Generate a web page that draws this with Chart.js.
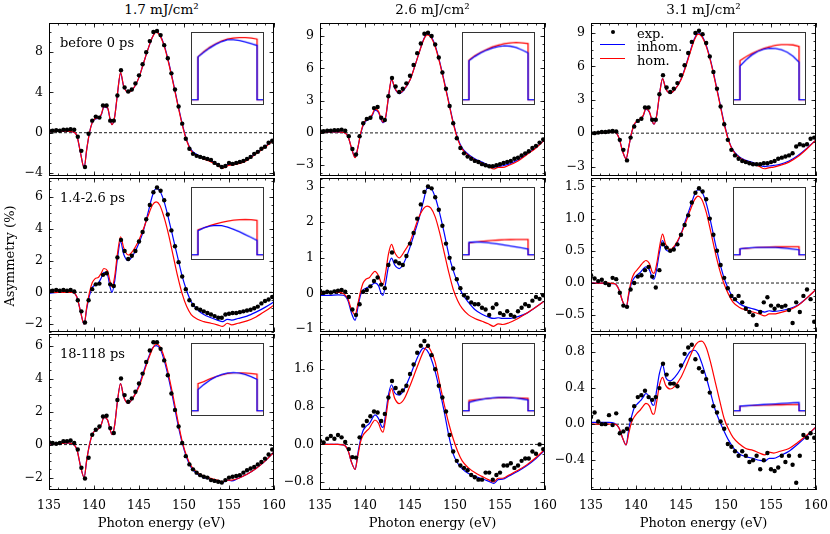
<!DOCTYPE html>
<html>
<head>
<meta charset="utf-8">
<script src="https://cdn.jsdelivr.net/npm/chart.js@4.4.0/dist/chart.umd.min.js"></script>
<style>
  body { margin: 0; width: 830px; height: 534px; position: relative; overflow: hidden; background: #fff; font-family: 'DejaVu Serif', serif; }
  canvas { position: absolute; }
  .txt { position: absolute; color: #000; white-space: nowrap; line-height: 1; font-size: 13px; }
</style>
</head>
<body>
<script>
// rows = delay windows, columns = fluences
const delays = ['before 0 ps', '1.4-2.6 ps', '18-118 ps'];
const fluences = ['1.7 mJ/cm²', '2.6 mJ/cm²', '3.1 mJ/cm²'];
const seriesNames = ['exp.', 'inhom.', 'hom.'];
const xTitle = 'Photon energy (eV)';
const yTitle = 'Asymmetry (%)';
const xTicks = [135, 140, 145, 150, 155, 160];

const yTicksBefore = [[-4, 0, 4, 8], [-3, 0, 3, 6, 9], [-3, 0, 3, 6, 9]];
const yTicksEarly = [[-2, 0, 2, 4, 6], [-1, 0, 1, 2, 3], [-0.5, 0, 0.5, 1, 1.5]];
const yTicksLate = [[-2, 0, 2, 4, 6], [-0.8, 0, 0.8, 1.6], [-0.4, 0, 0.4, 0.8]];
const yRangeBefore = [[-4.3, 10.9], [-4.0, 10.2], [-3.85, 9.9]];
const yRangeEarly = [[-2.5, 7.2], [-1.08, 3.24], [-0.76, 1.63]];
const yRangeLate = [[-2.75, 6.7], [-0.97, 2.35], [-0.73, 1.0]];

// energies of the measured points (eV)
const energy = [135.0,135.4,135.8,136.2,136.6,137.0,137.4,137.8,138.2,138.6,
  139.0,139.4,139.8,140.2,140.6,141.0,141.4,141.8,142.2,142.6,
  143.0,143.4,143.8,144.2,144.6,145.0,145.4,145.8,146.2,146.6,
  147.0,147.4,147.8,148.2,148.6,149.0,149.4,149.8,150.2,150.6,
  151.0,151.4,151.8,152.2,152.6,153.0,153.4,153.8,154.2,154.6,
  155.0,155.4,155.8,156.2,156.6,157.0,157.4,157.8,158.2,158.6,
  159.0,159.4,159.8];

// energies of the model curves (eV)
const modelEnergy = [135,136,137,137.6,138.1,138.5,138.9,139.2,139.5,139.8,
  140.1,140.5,140.8,141.1,141.5,141.8,142.0,142.3,142.6,142.95,
  143.3,143.8,144.3,145,145.5,146,146.5,146.9,147.3,147.8,
  148.3,148.8,149.3,149.8,150.3,150.8,151.5,152.2,153,153.7,
  154.3,154.8,155.3,156,157,158,159,160];

// ---- before 0 ps ----
const expBefore17 = [0.2,0.2,0.25,0.2,0.3,0.3,0.35,0.3,-0.4,-1.8,
  -3.4,-0.1,1.2,1.6,1.5,2.7,2.7,1.2,1.2,3.7,
  6.2,4.5,4.1,4.3,4.9,5.7,6.8,8.0,9.1,10.0,
  10.1,9.7,8.7,7.4,5.9,4.3,2.6,0.9,-0.6,-1.6,
  -2.1,-2.3,-2.4,-2.5,-2.6,-2.7,-3.0,-3.2,-3.4,-3.3,
  -3.0,-3.1,-3.0,-2.9,-2.8,-2.6,-2.4,-2.1,-1.9,-1.6,
  -1.4,-1.0,-0.8];
const inhomBefore17 = [0.1,0.15,0.15,0.1,-0.3,-2.0,-3.45,-1.6,0.0,1.0,
  1.35,1.45,1.75,2.55,2.45,1.3,0.8,1.6,3.8,5.9,
  4.6,4.0,4.3,5.5,6.9,8.3,9.5,10.05,9.75,8.7,
  7.0,5.0,2.9,0.9,-0.75,-1.7,-2.2,-2.5,-2.8,-3.1,
  -3.4,-3.2,-3.1,-3.0,-2.65,-2.05,-1.4,-0.65];
const homBefore17 = [0.1,0.15,0.15,0.1,-0.3,-2.0,-3.5,-1.6,0.0,1.0,
  1.4,1.5,1.8,2.6,2.5,1.3,0.8,1.6,3.8,6.0,
  4.6,4.0,4.3,5.5,6.9,8.3,9.5,10.0,9.7,8.6,
  6.9,4.9,2.8,0.8,-0.8,-1.8,-2.3,-2.6,-2.9,-3.2,
  -3.55,-3.3,-3.2,-3.1,-2.75,-2.1,-1.45,-0.7];

const expBefore26 = [0.15,0.15,0.2,0.2,0.25,0.25,0.3,0.2,-0.3,-1.5,
  -2.0,-0.3,0.9,1.3,1.4,2.3,2.4,1.4,1.2,3.4,
  5.1,4.3,3.8,4.1,4.6,5.3,6.3,7.4,8.3,9.2,
  9.3,9.0,8.2,7.0,5.6,4.1,2.5,0.9,-0.5,-1.4,
  -1.9,-2.2,-2.4,-2.6,-2.7,-2.9,-3.0,-3.1,-3.1,-3.0,
  -2.9,-2.8,-2.7,-2.6,-2.4,-2.3,-2.1,-1.9,-1.7,-1.4,
  -1.2,-0.9,-0.6];
const inhomBefore26 = [0.05,0.1,0.1,0.05,-0.3,-1.4,-2.25,-1.4,-0.15,0.7,
  1.1,1.3,1.6,2.1,1.9,1.2,0.95,1.45,3.25,4.95,
  4.15,3.65,3.95,4.9,6.1,7.4,8.65,9.2,9.0,8.1,
  6.6,4.8,2.9,1.0,-0.5,-1.4,-2.0,-2.4,-2.7,-3.0,
  -3.2,-3.1,-3.05,-2.9,-2.5,-1.95,-1.35,-0.6];
const homBefore26 = [0.05,0.1,0.1,0.05,-0.3,-1.4,-2.3,-1.4,-0.1,0.8,
  1.2,1.4,1.7,2.2,2.0,1.3,1.0,1.5,3.3,5.0,
  4.2,3.7,4.0,4.9,6.1,7.4,8.6,9.1,8.9,8.0,
  6.5,4.7,2.8,0.9,-0.6,-1.5,-2.1,-2.5,-2.8,-3.1,
  -3.35,-3.2,-3.2,-3.0,-2.6,-2.0,-1.4,-0.6];

const expBefore31 = [0.0,0.0,0.05,0.1,0.1,0.15,0.2,0.15,-0.6,-1.5,
  -2.45,-0.4,0.6,1.1,1.3,2.3,2.3,1.2,1.2,3.5,
  5.2,4.1,3.7,4.0,4.5,5.2,6.1,7.2,8.2,9.0,
  9.2,8.9,8.1,6.9,5.5,4.0,2.4,0.8,-0.6,-1.5,
  -2.0,-2.3,-2.5,-2.6,-2.7,-2.8,-2.8,-2.8,-2.7,-2.7,
  -2.6,-2.5,-2.3,-2.2,-2.1,-2.0,-1.8,-1.2,-1.0,-1.1,
  -1.0,-0.5,-0.4];
const inhomBefore31 = [0.0,0.05,0.1,0.1,-0.4,-1.6,-2.3,-1.2,0.0,0.75,
  1.05,1.25,1.55,2.15,1.85,1.05,0.8,1.6,3.4,4.9,
  4.0,3.6,3.9,4.85,6.0,7.3,8.5,9.0,8.8,7.9,
  6.5,4.7,2.8,0.9,-0.65,-1.55,-2.15,-2.45,-2.65,-2.9,
  -3.0,-2.95,-2.9,-2.8,-2.5,-2.0,-1.35,-0.6];
const homBefore31 = [0.0,0.05,0.1,0.1,-0.4,-1.6,-2.3,-1.2,0.0,0.8,
  1.1,1.3,1.6,2.2,1.9,1.1,0.8,1.6,3.4,4.9,
  4.0,3.6,3.9,4.8,5.9,7.2,8.4,8.9,8.7,7.8,
  6.4,4.6,2.7,0.8,-0.7,-1.6,-2.2,-2.5,-2.75,-3.0,
  -3.2,-3.1,-3.05,-2.9,-2.6,-2.1,-1.4,-0.6];

// ---- 1.4-2.6 ps ----
const expEarly17 = [0.1,0.1,0.15,0.1,0.15,0.1,0.15,0.05,-0.5,-1.2,
  -1.9,-0.5,0.2,0.5,0.55,1.1,1.2,0.5,0.4,2.2,
  3.3,2.6,2.1,2.3,2.6,3.2,3.8,4.6,5.5,6.3,
  6.6,6.4,5.8,4.9,3.9,2.9,1.9,1.0,0.2,-0.5,
  -0.8,-1.0,-1.1,-1.2,-1.3,-1.4,-1.5,-1.6,-1.6,-1.4,
  -1.35,-1.3,-1.3,-1.25,-1.2,-1.15,-1.1,-1.0,-0.9,-0.7,
  -0.55,-0.45,-0.3];
const inhomEarly17 = [-0.05,0.0,0.0,0.0,-0.3,-1.2,-2.0,-1.0,-0.2,0.3,
  0.45,0.6,0.9,1.25,1.1,0.3,0.0,0.7,2.1,3.2,
  2.4,2.0,2.3,3.1,3.9,5.0,6.1,6.55,6.4,5.7,
  4.6,3.4,2.2,1.0,0.1,-0.6,-1.1,-1.4,-1.6,-1.75,
  -1.85,-1.7,-1.75,-1.65,-1.5,-1.25,-0.95,-0.6];
const homEarly17 = [0.0,0.0,0.0,0.0,-0.3,-1.2,-2.0,-0.9,0.0,0.6,
  0.85,0.95,1.2,1.5,1.35,0.65,0.35,1.0,2.4,3.5,
  2.8,2.35,2.6,3.3,4.0,4.8,5.5,5.7,5.5,4.7,
  3.6,2.3,1.0,-0.1,-0.9,-1.4,-1.7,-1.85,-1.95,-2.05,
  -2.15,-1.95,-2.05,-1.95,-1.8,-1.55,-1.2,-0.8];

const expEarly26 = [0.08,0.02,0.05,0.03,0.06,0.08,0.1,0.05,-0.1,-0.45,
  -0.6,-0.3,0.05,0.1,0.2,0.35,0.45,0.25,0.15,0.8,
  1.15,0.9,0.85,0.8,1.05,1.4,1.7,2.1,2.5,2.85,
  3.0,2.95,2.7,2.35,1.9,1.4,1.0,0.7,0.4,0.15,
  -0.05,-0.12,-0.25,-0.3,-0.3,-0.4,-0.45,-0.6,-0.4,-0.3,
  -0.55,-0.6,-0.5,-0.6,-0.65,-0.5,-0.4,-0.3,-0.35,-0.2,
  -0.1,-0.15,-0.05];
const inhomEarly26 = [-0.05,-0.05,-0.04,-0.05,-0.2,-0.55,-0.75,-0.4,-0.05,0.1,
  0.15,0.2,0.25,0.3,0.22,0.0,-0.05,0.3,0.75,0.99,
  0.8,0.7,0.85,1.3,1.7,2.1,2.6,2.95,2.95,2.7,
  2.25,1.7,1.1,0.65,0.3,0.0,-0.25,-0.45,-0.58,-0.66,
  -0.7,-0.68,-0.7,-0.7,-0.65,-0.55,-0.38,-0.2];
const homEarly26 = [0.02,0.03,0.03,0.0,-0.15,-0.45,-0.6,-0.3,0.05,0.3,
  0.4,0.45,0.55,0.62,0.5,0.3,0.25,0.6,1.1,1.38,
  1.15,1.0,1.15,1.45,1.8,2.15,2.38,2.45,2.4,2.15,
  1.7,1.15,0.6,0.12,-0.2,-0.42,-0.6,-0.7,-0.78,-0.85,
  -0.92,-0.85,-0.87,-0.82,-0.7,-0.55,-0.38,-0.2];

const expEarly31 = [0.12,0.07,0.03,0.05,0.0,-0.03,0.08,0.06,-0.15,-0.35,
  -0.37,-0.1,0.0,0.1,0.12,0.2,0.25,0.1,-0.07,0.2,
  0.6,0.55,0.5,0.52,0.6,0.75,0.9,1.05,1.25,1.4,
  1.47,1.42,1.3,1.0,0.75,0.5,0.28,0.08,-0.08,-0.2,
  -0.25,-0.2,-0.3,-0.4,-0.45,-0.5,-0.65,-0.45,-0.3,-0.22,
  -0.35,-0.4,-0.35,-0.37,-0.35,-0.42,-0.62,-0.3,-0.45,-0.2,
  -0.1,-0.25,-0.6];
const inhomEarly31 = [0.0,0.0,-0.01,-0.01,-0.1,-0.28,-0.38,-0.18,0.0,0.08,
  0.12,0.17,0.22,0.25,0.2,0.08,0.06,0.22,0.47,0.66,
  0.52,0.49,0.56,0.76,0.97,1.17,1.37,1.45,1.42,1.24,
  0.95,0.62,0.32,0.07,-0.1,-0.23,-0.32,-0.37,-0.4,-0.43,
  -0.45,-0.43,-0.44,-0.43,-0.4,-0.34,-0.23,-0.1];
const homEarly31 = [0.0,0.0,0.0,-0.01,-0.1,-0.28,-0.38,-0.15,0.05,0.15,
  0.2,0.27,0.32,0.35,0.3,0.17,0.15,0.3,0.55,0.76,
  0.6,0.52,0.58,0.76,0.93,1.12,1.29,1.35,1.3,1.1,
  0.8,0.48,0.2,-0.02,-0.18,-0.3,-0.38,-0.42,-0.45,-0.48,
  -0.51,-0.48,-0.48,-0.46,-0.42,-0.35,-0.23,-0.1];

// ---- 18-118 ps ----
const expLate17 = [0.15,0.1,0.05,0.1,0.2,0.2,0.25,0.1,-0.3,-1.4,
  -2.05,-0.8,0.6,0.9,1.1,1.7,1.75,1.0,0.7,2.7,
  4.0,3.0,2.6,2.8,3.2,3.7,4.3,5.0,5.7,6.2,
  6.2,5.8,5.1,4.2,3.1,2.1,1.1,0.1,-0.7,-1.2,
  -1.5,-1.7,-1.85,-1.95,-2.0,-2.15,-2.2,-2.25,-2.3,-2.15,
  -2.0,-1.95,-1.9,-1.85,-1.7,-1.55,-1.45,-1.35,-1.2,-1.05,
  -0.85,-0.6,-0.3];
const inhomLate17 = [0.05,0.05,0.1,0.05,-0.3,-1.3,-2.0,-0.9,0.0,0.6,
  0.85,0.95,1.2,1.65,1.5,0.9,0.6,1.2,2.6,3.7,
  2.9,2.5,2.8,3.6,4.4,5.2,5.85,6.0,5.85,5.1,
  4.0,2.7,1.3,0.1,-0.8,-1.4,-1.8,-2.0,-2.1,-2.2,
  -2.3,-2.15,-2.2,-2.05,-1.8,-1.45,-1.0,-0.45];
const homLate17 = [0.05,0.05,0.1,0.05,-0.3,-1.3,-2.0,-0.9,0.0,0.6,
  0.85,0.95,1.2,1.65,1.5,0.9,0.6,1.2,2.6,3.7,
  2.9,2.5,2.8,3.5,4.3,5.1,5.8,6.1,5.95,5.3,
  4.2,2.9,1.5,0.2,-0.7,-1.3,-1.7,-1.9,-2.05,-2.15,
  -2.25,-2.15,-2.15,-2.05,-1.8,-1.45,-1.0,-0.45];

const expLate26 = [0.08,0.04,0.12,0.18,0.12,0.2,0.15,0.05,-0.1,-0.27,
  -0.28,0.15,0.4,0.5,0.6,0.7,0.68,0.5,0.65,1.0,
  1.35,1.2,1.1,1.15,1.25,1.5,1.7,1.95,2.1,2.2,
  2.1,1.9,1.6,1.25,1.0,0.7,0.2,-0.15,-0.35,-0.45,
  -0.5,-0.55,-0.65,-0.7,-0.75,-0.75,-0.6,-0.6,-0.75,-0.65,
  -0.6,-0.45,-0.45,-0.4,-0.5,-0.45,-0.35,-0.3,-0.3,-0.15,
  -0.2,0.0,-0.1];
const inhomLate26 = [0.0,0.0,0.0,-0.01,-0.12,-0.38,-0.53,-0.2,0.1,0.3,
  0.38,0.45,0.55,0.63,0.55,0.4,0.36,0.65,1.05,1.27,
  1.1,1.05,1.15,1.45,1.7,1.92,2.05,2.0,1.85,1.55,
  1.15,0.7,0.2,-0.2,-0.4,-0.52,-0.62,-0.68,-0.73,-0.78,
  -0.83,-0.75,-0.74,-0.67,-0.57,-0.45,-0.3,-0.12];
const homLate26 = [0.0,0.0,0.0,-0.01,-0.12,-0.38,-0.53,-0.25,0.05,0.2,
  0.27,0.35,0.45,0.52,0.45,0.3,0.26,0.55,0.95,1.19,
  0.98,0.87,0.95,1.25,1.5,1.75,1.98,2.08,2.0,1.75,
  1.3,0.85,0.45,0.12,-0.15,-0.35,-0.5,-0.6,-0.68,-0.75,
  -0.8,-0.72,-0.72,-0.65,-0.55,-0.43,-0.28,-0.1];

const expLate31 = [0.08,0.13,0.03,0.0,0.0,0.1,-0.01,0.12,-0.1,-0.08,
  -0.05,0.05,0.2,0.3,0.32,0.37,0.3,0.27,0.3,0.4,
  0.67,0.55,0.45,0.45,0.42,0.65,0.78,0.85,0.88,0.72,
  0.62,0.58,0.5,0.35,0.2,0.13,0.03,-0.05,-0.22,-0.25,
  -0.3,-0.35,-0.3,-0.35,-0.42,-0.4,-0.35,-0.5,-0.4,-0.32,
  -0.5,-0.52,-0.48,-0.35,-0.42,-0.35,-0.45,-0.65,-0.35,-0.12,
  -0.15,-0.1,-0.15];
const inhomLate31 = [0.02,0.02,0.02,0.01,-0.04,-0.15,-0.23,-0.05,0.08,0.18,
  0.22,0.26,0.3,0.34,0.3,0.22,0.21,0.38,0.56,0.66,
  0.52,0.48,0.52,0.62,0.72,0.8,0.82,0.78,0.68,0.52,
  0.34,0.16,0.03,-0.08,-0.18,-0.26,-0.33,-0.36,-0.38,-0.4,
  -0.41,-0.38,-0.38,-0.35,-0.3,-0.22,-0.13,-0.03];
const homLate31 = [0.0,0.0,0.0,0.0,-0.04,-0.15,-0.23,-0.1,0.02,0.08,
  0.12,0.16,0.2,0.23,0.2,0.12,0.11,0.25,0.43,0.52,
  0.43,0.39,0.42,0.52,0.63,0.75,0.86,0.91,0.92,0.85,
  0.68,0.47,0.26,0.06,-0.06,-0.15,-0.22,-0.27,-0.29,-0.32,
  -0.34,-0.31,-0.32,-0.3,-0.27,-0.2,-0.12,-0.03];

// inset profiles (depth 0..1, relative height)
const insetDepth = [0, 0.1, 0.2, 0.3, 0.4, 0.5, 0.6, 0.7, 0.8, 0.9, 1.0];
const insetBase = 0.06;
const insetInhomBefore17 = [0.664,0.73,0.79,0.84,0.88,0.905,0.905,0.895,0.875,0.85,0.825];
const insetHomBefore17 = [0.664,0.74,0.80,0.85,0.89,0.915,0.93,0.937,0.937,0.93,0.915];
const insetInhomBefore26 = [0.61,0.67,0.72,0.76,0.79,0.81,0.82,0.815,0.795,0.76,0.72];
const insetHomBefore26 = [0.62,0.68,0.73,0.77,0.805,0.83,0.85,0.862,0.867,0.86,0.85];
const insetInhomBefore31 = [0.533,0.62,0.69,0.74,0.772,0.786,0.783,0.765,0.73,0.67,0.59];
const insetHomBefore31 = [0.61,0.665,0.71,0.75,0.783,0.808,0.826,0.836,0.838,0.832,0.81];
const insetInhomEarly17 = [0.40,0.44,0.465,0.475,0.47,0.45,0.42,0.385,0.345,0.305,0.262];
const insetHomEarly17 = [0.41,0.44,0.47,0.495,0.515,0.532,0.545,0.553,0.556,0.552,0.542];
const insetInhomEarly26 = [0.236,0.24,0.238,0.232,0.222,0.21,0.197,0.183,0.17,0.155,0.14];
const insetHomEarly26 = [0.225,0.238,0.248,0.256,0.262,0.267,0.271,0.274,0.276,0.277,0.277];
const insetInhomEarly31 = [0.142,0.152,0.158,0.162,0.164,0.164,0.162,0.157,0.15,0.14,0.129];
const insetHomEarly31 = [0.142,0.151,0.157,0.162,0.166,0.169,0.171,0.172,0.173,0.173,0.172];
const insetInhomLate17 = [0.358,0.43,0.49,0.535,0.57,0.59,0.597,0.59,0.57,0.54,0.50];
const insetHomLate17 = [0.442,0.47,0.51,0.54,0.565,0.585,0.595,0.595,0.59,0.583,0.575];
const insetInhomLate26 = [0.177,0.2,0.218,0.232,0.242,0.247,0.248,0.245,0.237,0.226,0.212];
const insetHomLate26 = [0.204,0.214,0.224,0.232,0.238,0.242,0.243,0.243,0.241,0.238,0.235];
const insetInhomLate31 = [0.124,0.13,0.136,0.142,0.147,0.152,0.157,0.162,0.167,0.172,0.177];
const insetHomLate31 = [0.124,0.128,0.132,0.135,0.138,0.14,0.142,0.144,0.145,0.146,0.146];

// grids of series [row][col]
const expRows = [[expBefore17, expBefore26, expBefore31], [expEarly17, expEarly26, expEarly31], [expLate17, expLate26, expLate31]];
const inhomRows = [[inhomBefore17, inhomBefore26, inhomBefore31], [inhomEarly17, inhomEarly26, inhomEarly31], [inhomLate17, inhomLate26, inhomLate31]];
const homRows = [[homBefore17, homBefore26, homBefore31], [homEarly17, homEarly26, homEarly31], [homLate17, homLate26, homLate31]];
const insetInhomRows = [[insetInhomBefore17, insetInhomBefore26, insetInhomBefore31], [insetInhomEarly17, insetInhomEarly26, insetInhomEarly31], [insetInhomLate17, insetInhomLate26, insetInhomLate31]];
const insetHomRows = [[insetHomBefore17, insetHomBefore26, insetHomBefore31], [insetHomEarly17, insetHomEarly26, insetHomEarly31], [insetHomLate17, insetHomLate26, insetHomLate31]];
const yTickRows = [yTicksBefore, yTicksEarly, yTicksLate];
const yRangeRows = [yRangeBefore, yRangeEarly, yRangeLate];

// ---- layout ----
const SERIF = "'DejaVu Serif', serif";
Chart.defaults.color = '#000';
Chart.defaults.font.family = SERIF;

const panelLeft = [49, 320, 591];
const panelTop = [22, 177, 333];
const panelHeight = [155, 156, 157];
const panelWidth = 225;
const axisW = 45;
const rightPad = 18;
const yMinor = [[1, 0.75, 0.75], [0.5, 0.2, 0.1], [0.5, 0.2, 0.1]];
const BLUE = '#0000ff', RED = '#ff0000';

// frame + inward ticks on all four sides
const framePlugin = {
  id: 'frame',
  afterDatasetsDraw(chart, args, opts) {
    const { ctx, chartArea: a, scales: { x, y } } = chart;
    ctx.save();
    ctx.strokeStyle = '#000';
    ctx.lineWidth = 0.8;
    const tx = (v, len) => {
      const p = Math.round(x.getPixelForValue(v)) + 0.5;
      ctx.beginPath();
      ctx.moveTo(p, a.bottom); ctx.lineTo(p, a.bottom - len);
      ctx.moveTo(p, a.top); ctx.lineTo(p, a.top + len);
      ctx.stroke();
    };
    const ty = (v, len) => {
      const p = Math.round(y.getPixelForValue(v)) + 0.5;
      ctx.beginPath();
      ctx.moveTo(a.left, p); ctx.lineTo(a.left + len, p);
      ctx.moveTo(a.right, p); ctx.lineTo(a.right - len, p);
      ctx.stroke();
    };
    for (let k = 135; k <= 160; k++) tx(k, 2.5);
    xTicks.forEach(v => tx(v, 4.5));
    const st = opts.minor;
    for (let k = Math.ceil(y.min / st - 1e-9); k * st <= y.max + 1e-9; k++) ty(k * st, 2.5);
    opts.major.forEach(v => ty(v, 4.5));
    ctx.lineWidth = 1;
    ctx.strokeRect(a.left + 0.5, a.top + 0.5, a.right - a.left - 1, a.bottom - a.top - 1);
    ctx.restore();
  }
};

function pts(xs, ys) { return xs.map((x, i) => ({ x: x, y: ys[i] })); }

function fmt(v, dec) {
  const s = dec ? v.toFixed(1) : String(Math.round(v));
  return s.replace('-', '\u2212');
}

function makePanel(r, c) {
  const bottomRow = r === 2;
  const h = panelHeight[r];
  const cv = document.createElement('canvas');
  cv.width = axisW + panelWidth + rightPad;
  cv.height = 3 + h + (bottomRow ? 44 : 3);
  cv.style.left = (panelLeft[c] - axisW) + 'px';
  cv.style.top = (panelTop[r] - 3) + 'px';
  document.body.appendChild(cv);

  const yt = yTickRows[r][c];
  const dec = yt.some(v => !Number.isInteger(v));
  const rng = yRangeRows[r][c];

  new Chart(cv, {
    type: 'line',
    data: {
      datasets: [
        { label: seriesNames[0], data: pts(energy, expRows[r][c]), showLine: false,
          pointRadius: 2.2, pointBackgroundColor: '#000', pointBorderWidth: 0 },
        { label: seriesNames[2], data: pts(modelEnergy, homRows[r][c]), borderColor: RED,
          borderWidth: 1.2, pointRadius: 0, cubicInterpolationMode: 'monotone' },
        { label: seriesNames[1], data: pts(modelEnergy, inhomRows[r][c]), borderColor: BLUE,
          borderWidth: 1.2, pointRadius: 0, cubicInterpolationMode: 'monotone' },
        { label: 'zero', data: [{ x: 135, y: 0 }, { x: 160, y: 0 }], borderColor: '#000',
          borderWidth: 0.9, borderDash: [3, 2], pointRadius: 0 }
      ]
    },
    options: {
      responsive: false,
      animation: false,
      events: [],
      layout: { padding: { left: 0, top: 3, right: rightPad, bottom: bottomRow ? 0 : 3 } },
      plugins: {
        legend: { display: false },
        tooltip: { enabled: false },
        frame: { major: yt, minor: yMinor[r][c] }
      },
      scales: {
        x: {
          type: 'linear', min: 135, max: 160, display: bottomRow,
          grid: { display: false, drawTicks: false }, border: { display: false },
          afterBuildTicks: s => { s.ticks = xTicks.map(v => ({ value: v })); },
          afterFit: s => { if (bottomRow) s.height = 44; s.paddingLeft = 0; s.paddingRight = 0; },
          ticks: { padding: 8, maxRotation: 0, autoSkip: false, font: { family: SERIF, size: 12.5 }, color: '#000' },
          title: { display: true, text: xTitle, color: '#000', font: { family: SERIF, size: 13 }, padding: { top: 0, bottom: 3 } }
        },
        y: {
          type: 'linear', min: rng[0], max: rng[1],
          grid: { display: false, drawTicks: false }, border: { display: false },
          afterBuildTicks: s => { s.ticks = yt.map(v => ({ value: v })); },
          afterFit: s => { s.width = axisW; s.paddingTop = 0; s.paddingBottom = 0; },
          ticks: { padding: 6, autoSkip: false, font: { family: SERIF, size: 12.5 }, color: '#000',
                   callback: v => fmt(v, dec) }
        }
      }
    },
    plugins: [framePlugin]
  });
}

function makeInset(r, c) {
  const cv = document.createElement('canvas');
  cv.width = 73; cv.height = 73;
  cv.style.left = (panelLeft[c] + 142) + 'px';
  cv.style.top = (panelTop[r] + Math.round(0.062 * panelHeight[r])) + 'px';
  cv.style.border = '1px solid #333';
  cv.style.background = '#fff';
  document.body.appendChild(cv);
  const profile = vals => [{ x: -0.1, y: insetBase }, { x: 0, y: insetBase }]
    .concat(pts(insetDepth, vals))
    .concat([{ x: 1, y: insetBase }, { x: 1.1, y: insetBase }]);
  new Chart(cv, {
    type: 'line',
    data: {
      datasets: [
        { label: seriesNames[1], data: profile(insetInhomRows[r][c]), borderColor: BLUE, borderWidth: 1.3, pointRadius: 0, tension: 0 },
        { label: seriesNames[2], data: profile(insetHomRows[r][c]), borderColor: RED, borderWidth: 1.3, pointRadius: 0, tension: 0 }
      ]
    },
    options: {
      responsive: false, animation: false, events: [],
      layout: { padding: 0 },
      plugins: { legend: { display: false }, tooltip: { enabled: false } },
      scales: {
        x: { type: 'linear', min: -0.1, max: 1.1, display: false },
        y: { type: 'linear', min: 0, max: 1, display: false }
      }
    }
  });
}

function addText(str, x, y, size, extra) {
  const d = document.createElement('div');
  d.className = 'txt';
  d.textContent = str;
  d.style.left = x + 'px';
  d.style.top = y + 'px';
  d.style.fontSize = size + 'px';
  d.style.transform = extra || 'translateY(-50%)';
  document.body.appendChild(d);
  return d;
}

for (let r = 0; r < 3; r++) {
  for (let c = 0; c < 3; c++) {
    makePanel(r, c);
    makeInset(r, c);
  }
}

// column titles, row labels, y title
fluences.forEach((f, c) => addText(f, panelLeft[c] + panelWidth / 2, 10, 13.5, 'translate(-50%,-50%)'));
delays.forEach((d, r) => addText(d, 60, panelTop[r] + 20, 13));
addText(yTitle, 9, 256, 13, 'translate(-50%,-50%) rotate(-90deg)');

// legend in the top-right panel
(function legend() {
  const lx = panelLeft[2];
  const rowsY = [32.5, 46, 60];
  const dot = document.createElement('div');
  dot.style.cssText = 'position:absolute;width:4.4px;height:4.4px;border-radius:50%;background:#000;left:' + (lx + 19.5) + 'px;top:' + (rowsY[0] - 2.7) + 'px';
  document.body.appendChild(dot);
  [BLUE, RED].forEach((col, i) => {
    const ln = document.createElement('div');
    ln.style.cssText = 'position:absolute;width:25px;height:0;border-top:1.5px solid ' + col + ';left:' + (lx + 9) + 'px;top:' + (rowsY[i + 1] - 2) + 'px';
    document.body.appendChild(ln);
  });
  seriesNames.forEach((n, i) => addText(n, lx + 46, rowsY[i], 13));
})();
</script>
</body>
</html>
